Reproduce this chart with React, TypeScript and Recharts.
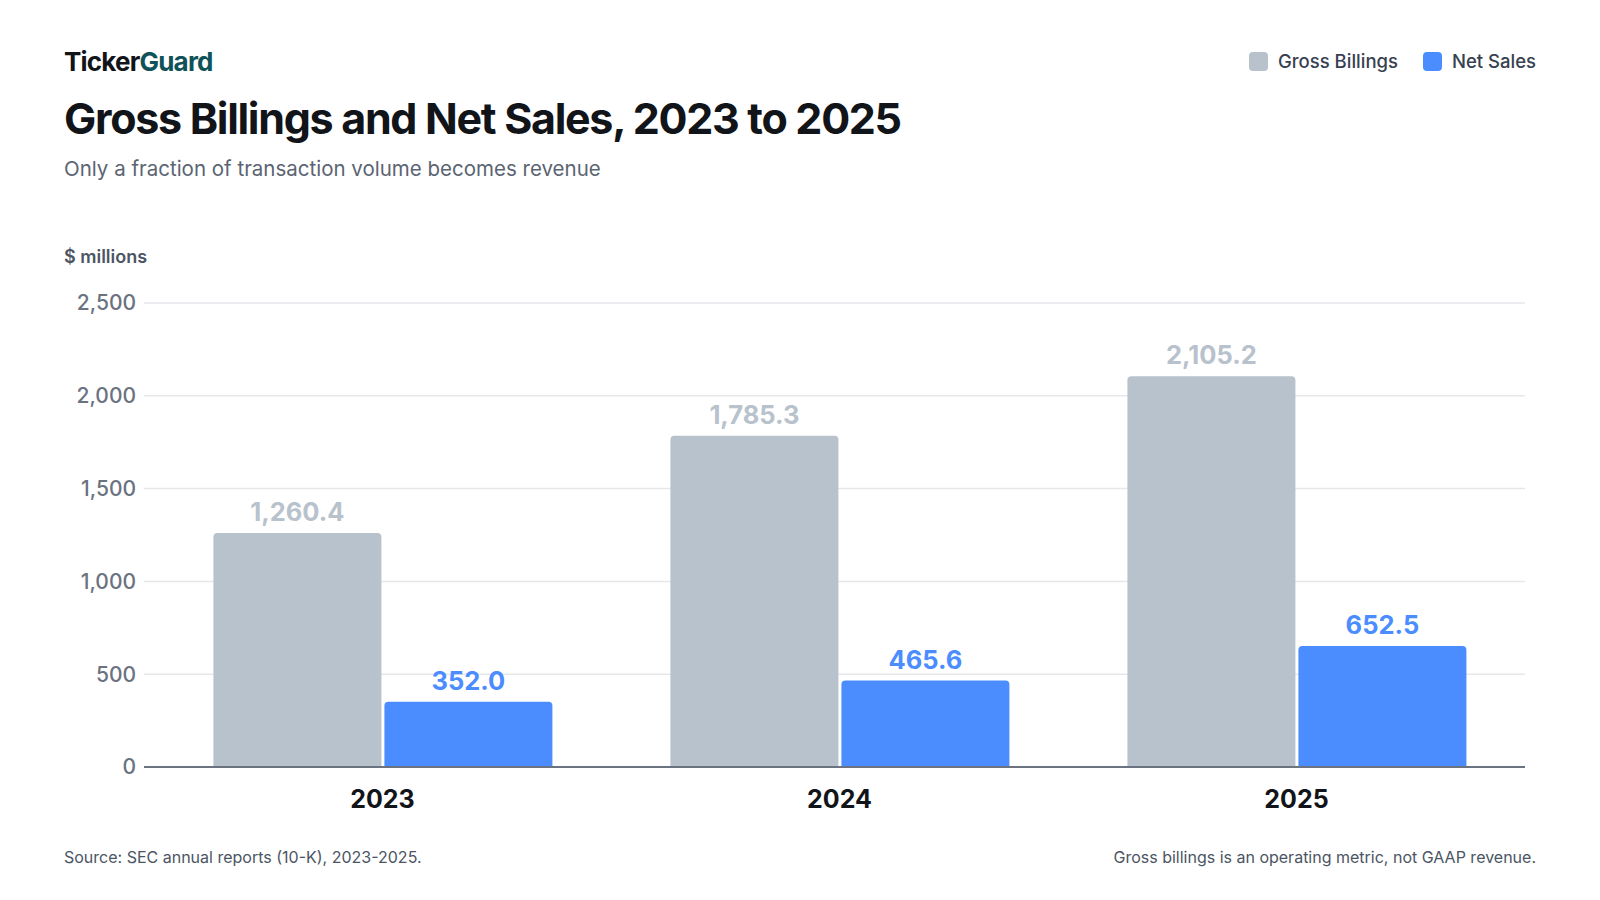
import React from "react";
import { BarChart, Bar, CartesianGrid, XAxis, YAxis, LabelList } from "recharts";

const years = ["2023", "2024", "2025"];
const grossBillings = [1260.4, 1785.3, 2105.2];
const netSales = [352.0, 465.6, 652.5];
const yTicks = [0, 500, 1000, 1500, 2000, 2500];

const data = years.map((year, i) => ({
  year,
  gross: grossBillings[i],
  net: netSales[i],
}));

const GREY = "#b8c2cc";
const BLUE = "#4b8dff";
const FONT = "Inter, 'Noto Sans', sans-serif";

const fmt = (v: number) =>
  v.toLocaleString("en-US", { minimumFractionDigits: 1, maximumFractionDigits: 1 });

export default function App() {
  return (
    <div
      style={{
        position: "absolute",
        left: 0,
        top: 0,
        width: 1600,
        height: 900,
        background: "#fff",
        fontFamily: FONT,
        overflow: "hidden",
      }}
    >
      <div style={{ position: "absolute", left: 64, top: 46, fontSize: 26, fontWeight: 700, letterSpacing: -0.8, color: "#111418" }}>
        Ticker<span style={{ color: "#0f5257" }}>Guard</span>
      </div>
      <div style={{ position: "absolute", left: 64, top: 92, fontSize: 43, fontWeight: 700, letterSpacing: -1.3, color: "#111418" }}>
        Gross Billings and Net Sales, 2023 to 2025
      </div>
      <div style={{ position: "absolute", left: 64, top: 156, fontSize: 20.5, color: "#5b6472" }}>
        Only a fraction of transaction volume becomes revenue
      </div>
      <div style={{ position: "absolute", left: 64, top: 246, fontSize: 18, fontWeight: 600, color: "#4b5563" }}>
        $ millions
      </div>

      <div style={{ position: "absolute", right: 64, top: 50, display: "flex", alignItems: "center", gap: 25, fontSize: 18.5, fontWeight: 500, color: "#374151" }}>
        <div style={{ display: "flex", alignItems: "center", gap: 10 }}>
          <span style={{ width: 19, height: 19, borderRadius: 4, background: GREY, display: "inline-block" }} />
          Gross Billings
        </div>
        <div style={{ display: "flex", alignItems: "center", gap: 10 }}>
          <span style={{ width: 19, height: 19, borderRadius: 4, background: BLUE, display: "inline-block" }} />
          Net Sales
        </div>
      </div>

      <div style={{ position: "absolute", left: 0, top: 0 }}>
        <BarChart
          width={1600}
          height={900}
          data={data}
          margin={{ top: 303, right: 75, bottom: 93, left: 64 }}
          barCategoryGap="13%"
          barGap={3}
        >
          <CartesianGrid vertical={false} stroke="#e5e7eb" strokeWidth={1.5} />
          <XAxis
            dataKey="year"
            padding={{ left: 10, right: 0 }}
            axisLine={{ stroke: "#6b7280", strokeWidth: 2 }}
            tickLine={false}
            height={40}
            tickMargin={17}
            tick={{ fontSize: 25, fontWeight: 700, fill: "#111418", fontFamily: FONT }}
          />
          <YAxis
            width={80}
            ticks={yTicks}
            domain={[0, 2500]}
            axisLine={false}
            tickLine={false}
            tickMargin={2}
            tickFormatter={(v: number) => v.toLocaleString("en-US")}
            tick={{ fontSize: 21, fontWeight: 500, fill: "#6b7280", fontFamily: FONT }}
          />
          <Bar dataKey="gross" fill={GREY} radius={[4, 4, 0, 0]} isAnimationActive={false}>
            <LabelList
              dataKey="gross"
              position="top"
              offset={12}
              formatter={(v: number) => fmt(v)}
              style={{ fontSize: 25.5, fontWeight: 700, fill: GREY, fontFamily: FONT }}
            />
          </Bar>
          <Bar dataKey="net" fill={BLUE} radius={[4, 4, 0, 0]} isAnimationActive={false}>
            <LabelList
              dataKey="net"
              position="top"
              offset={12}
              formatter={(v: number) => fmt(v)}
              style={{ fontSize: 25.5, fontWeight: 700, fill: BLUE, fontFamily: FONT }}
            />
          </Bar>
        </BarChart>
      </div>

      <div style={{ position: "absolute", left: 64, top: 847, fontSize: 16, color: "#4b5563" }}>
        Source: SEC annual reports (10-K), 2023-2025.
      </div>
      <div style={{ position: "absolute", right: 64, top: 847, fontSize: 16, color: "#4b5563" }}>
        Gross billings is an operating metric, not GAAP revenue.
      </div>
    </div>
  );
}
